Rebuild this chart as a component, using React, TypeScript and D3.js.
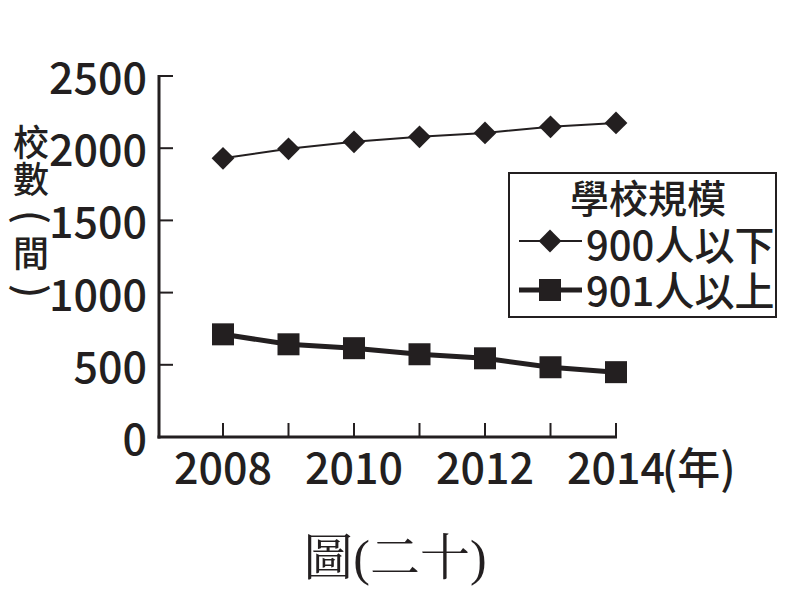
import React from 'react';
import * as d3 from 'd3';

// data
const years = [2008, 2009, 2010, 2011, 2012, 2013, 2014];
const smallSchools = [1930, 1996, 2044, 2079, 2106, 2148, 2175]; // 900人以下
const largeSchools = [711, 642, 615, 573, 545, 483, 449]; // 901人以上
const yTicks = [0, 500, 1000, 1500, 2000, 2500];
const xLabelYears = [2008, 2010, 2012, 2014];
const yTitleChars = ['校', '數', '(', '間', ')'];
const legendTitle = '學校規模';
const seriesNames = ['900人以下', '901人以上'];

const INK = '#231f20';
const FONT = '"Noto Sans CJK TC", "Noto Sans", sans-serif';

export default function App() {
  const width = 798;
  const height = 600;

  const x = d3.scaleLinear().domain([2008, 2014]).range([223, 616]);
  const y = d3.scaleLinear().domain([0, 2500]).range([437, 76]);

  const line = d3
    .line<[number, number]>()
    .x((d) => x(d[0]))
    .y((d) => y(d[1]));

  const smallPts = years.map((yr, i) => [yr, smallSchools[i]] as [number, number]);
  const largePts = years.map((yr, i) => [yr, largeSchools[i]] as [number, number]);

  const diamond = d3.symbol(d3.symbolSquare, 260)()!;
  const square = d3.symbol(d3.symbolSquare, 484)()!;

  const x0 = x.range()[0] - 64; // y axis position
  const yBase = y(0);

  // legend layout
  const lg = { x: 509, y: 173, w: 267, h: 144 };

  return (
    <svg
      width={width}
      height={height}
      style={{ position: 'absolute', left: 0, top: 0, background: '#fff' }}
      fontFamily={FONT}
    >
      {/* Y axis */}
      <line x1={x0} x2={x0} y1={y(2500) - 1} y2={yBase + 1.5} stroke={INK} strokeWidth={3} />
      {yTicks.map((t) => (
        <g key={t}>
          <line x1={x0} x2={x0 + 14} y1={y(t)} y2={y(t)} stroke={INK} strokeWidth={2} />
          <text
            x={x0 - 12}
            y={y(t) + 18}
            textAnchor="end"
            fontSize={43}
            fontWeight={500}
            fill={INK}
          >
            {t}
          </text>
        </g>
      ))}

      {/* X axis */}
      <line x1={x0 - 1.5} x2={x(2014) + 1} y1={yBase} y2={yBase} stroke={INK} strokeWidth={3} />
      {years.map((yr) => (
        <line
          key={yr}
          x1={x(yr)}
          x2={x(yr)}
          y1={yBase}
          y2={yBase - 14}
          stroke={INK}
          strokeWidth={2}
        />
      ))}
      {xLabelYears.map((yr) => (
        <text
          key={yr}
          x={x(yr)}
          y={yBase + 47}
          textAnchor="middle"
          fontSize={43}
          fontWeight={500}
          fill={INK}
        >
          {yr}
        </text>
      ))}
      <text x={x(2014) + 46} y={yBase + 47} fontSize={43} fontWeight={500} fill={INK}>
        (年)
      </text>

      {/* Y axis title, stacked vertically; parentheses turned to lie flat */}
      {yTitleChars.map((c, i) => {
        const cy = 143 + i * 37;
        const paren = c === '(' || c === ')';
        return (
          <text
            key={i}
            x={0}
            y={0}
            dy="0.36em"
            transform={`translate(31,${cy})${paren ? ' rotate(90)' : ''}`}
            textAnchor="middle"
            fontSize={paren ? 40 : 36}
            fontWeight={500}
            fill={INK}
          >
            {c}
          </text>
        );
      })}

      {/* series: 900人以下 */}
      <path d={line(smallPts)!} fill="none" stroke={INK} strokeWidth={2} />
      {smallPts.map((p, i) => (
        <path
          key={i}
          d={diamond}
          transform={`translate(${x(p[0])},${y(p[1])}) rotate(45)`}
          fill={INK}
        />
      ))}

      {/* series: 901人以上 */}
      <path d={line(largePts)!} fill="none" stroke={INK} strokeWidth={5} />
      {largePts.map((p, i) => (
        <path key={i} d={square} transform={`translate(${x(p[0])},${y(p[1])})`} fill={INK} />
      ))}

      {/* legend */}
      <rect x={lg.x} y={lg.y} width={lg.w} height={lg.h} fill="#fff" stroke={INK} strokeWidth={2} />
      <text x={lg.x + 139} y={lg.y + 40} textAnchor="middle" fontSize={39} fontWeight={500} fill={INK}>
        {legendTitle}
      </text>
      <line x1={lg.x + 10} x2={lg.x + 73} y1={lg.y + 68} y2={lg.y + 68} stroke={INK} strokeWidth={2} />
      <path d={diamond} transform={`translate(${lg.x + 41},${lg.y + 68}) rotate(45)`} fill={INK} />
      <text x={lg.x + 77} y={lg.y + 87} fontSize={40} fontWeight={500} fill={INK}>
        {seriesNames[0]}
      </text>
      <line x1={lg.x + 10} x2={lg.x + 73} y1={lg.y + 117} y2={lg.y + 117} stroke={INK} strokeWidth={5} />
      <path d={square} transform={`translate(${lg.x + 41},${lg.y + 117})`} fill={INK} />
      <text x={lg.x + 77} y={lg.y + 133} fontSize={40} fontWeight={500} fill={INK}>
        {seriesNames[1]}
      </text>

      {/* caption */}
      <text
        x={395}
        y={575}
        textAnchor="middle"
        fontSize={50}
        fill={INK}
        fontFamily='"Liberation Serif", "Noto Serif CJK TC", "Noto Sans CJK TC", serif'
      >
        圖(二十)
      </text>
    </svg>
  );
}
